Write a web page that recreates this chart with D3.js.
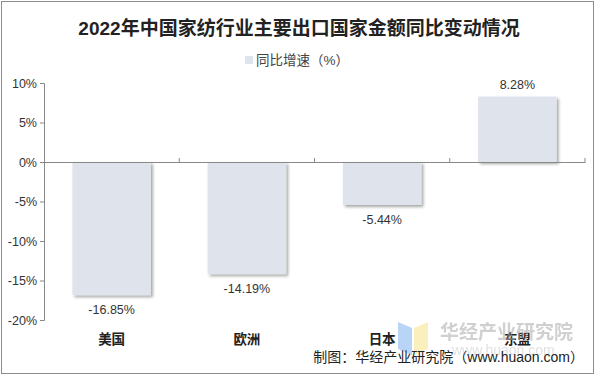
<!DOCTYPE html>
<html>
<head>
<meta charset="utf-8">
<script src="https://cdn.jsdelivr.net/npm/d3@7"></script>
<style>
body { margin: 0; background: #fff; }
text { font-family: Arial, "Liberation Sans", "Noto Sans CJK SC", sans-serif; }
</style>
</head>
<body>
<div id="chart"></div>
<script>
const categories = ["美国", "欧洲", "日本", "东盟"];
const growth = [-16.85, -14.19, -5.44, 8.28];
const yTicks = [10, 5, 0, -5, -10, -15, -20];

const width = 597, height = 377;
const margin = { left: 44, right: 12, top: 83, bottom: 57 };

const svg = d3.select("#chart").append("svg")
    .attr("width", width)
    .attr("height", height);

const defs = svg.append("defs");
const shadow = defs.append("filter").attr("id", "shadow")
    .attr("x", "-10%").attr("y", "-10%").attr("width", "130%").attr("height", "130%");
shadow.append("feDropShadow")
    .attr("dx", 2).attr("dy", 2).attr("stdDeviation", 1.5)
    .attr("flood-color", "#000").attr("flood-opacity", 0.35);

// frame
svg.append("rect")
    .attr("x", 1.5).attr("y", 1.5)
    .attr("width", 592).attr("height", 372)
    .attr("fill", "none").attr("stroke", "#8c8c8c");

const x = d3.scaleBand()
    .domain(categories)
    .range([margin.left, width - margin.right])
    .paddingInner(0.42)
    .paddingOuter(0.21);

const y = d3.scaleLinear()
    .domain([-20, 10])
    .range([height - margin.bottom, margin.top]);

// title
svg.append("text")
    .attr("x", 299).attr("y", 35)
    .attr("text-anchor", "middle")
    .attr("font-family", "'Noto Sans CJK SC', sans-serif")
    .attr("font-weight", "bold")
    .attr("font-size", 19)
    .attr("fill", "#222")
    .text("2022年中国家纺行业主要出口国家金额同比变动情况");

// legend
svg.append("rect")
    .attr("x", 245).attr("y", 56)
    .attr("width", 8).attr("height", 8)
    .attr("fill", "#dfe3ec");
svg.append("text")
    .attr("x", 256).attr("y", 65)
    .attr("font-family", "'Noto Sans CJK SC', sans-serif")
    .attr("font-size", 13.5)
    .attr("fill", "#444")
    .text("同比增速（%）");

// bars
svg.append("g").selectAll("rect")
    .data(growth)
    .join("rect")
    .attr("x", (d, i) => x(categories[i]))
    .attr("y", d => y(Math.max(0, d)))
    .attr("width", x.bandwidth())
    .attr("height", d => Math.abs(y(d) - y(0)))
    .attr("fill", "#dfe3ec")
    .attr("filter", "url(#shadow)");

// value labels
svg.append("g").selectAll("text")
    .data(growth)
    .join("text")
    .attr("x", (d, i) => x(categories[i]) + x.bandwidth() / 2)
    .attr("y", d => d < 0 ? y(d) + 19 : y(d) - 8)
    .attr("text-anchor", "middle")
    .attr("font-size", 12.5)
    .attr("fill", "#333")
    .text(d => d.toFixed(2) + "%");

// y axis
const yAxis = d3.axisLeft(y)
    .tickValues(yTicks)
    .tickSize(4)
    .tickFormat(d => d + "%");

const yg = svg.append("g")
    .attr("transform", `translate(${margin.left},0)`)
    .call(yAxis);
yg.select(".domain").attr("stroke", "#888");
yg.selectAll(".tick line").attr("stroke", "#888");
yg.selectAll(".tick text")
    .attr("font-size", 12.5)
    .attr("fill", "#333")
    .attr("font-family", "Arial, 'Liberation Sans', sans-serif")
    .attr("x", -7);

// x axis at zero
const xAxis = d3.axisBottom(x).tickSize(0).tickFormat("");
const xg = svg.append("g")
    .attr("transform", `translate(0,${y(0)})`)
    .call(xAxis);
xg.select(".domain").attr("stroke", "#888");

const bounds = categories.map(c => x(c) - x.step() * x.paddingInner() / 2);
bounds.push(width - margin.right);
xg.selectAll(".sep")
    .data(bounds.slice(1))
    .join("line")
    .attr("x1", d => d).attr("x2", d => d)
    .attr("y1", 0).attr("y2", -4)
    .attr("stroke", "#888");

// category labels at bottom
svg.append("g").selectAll("text")
    .data(categories)
    .join("text")
    .attr("x", d => x(d) + x.bandwidth() / 2)
    .attr("y", 344)
    .attr("text-anchor", "middle")
    .attr("font-family", "'Noto Sans CJK SC', sans-serif")
    .attr("font-weight", "bold")
    .attr("font-size", 13.5)
    .attr("fill", "#222")
    .text(d => d);

// watermark
const wm = svg.append("g").attr("opacity", 0.55);
wm.append("path")
    .attr("d", "M398,322 L412,328 L412,355 L398,349 Z")
    .attr("fill", "#7fb2f0");
wm.append("path")
    .attr("d", "M414,328 L428,322 L428,349 L414,355 Z")
    .attr("fill", "#f7e58a");
wm.append("text")
    .attr("x", 440).attr("y", 339)
    .attr("font-family", "'Noto Sans CJK SC', sans-serif")
    .attr("font-weight", "bold")
    .attr("font-size", 19)
    .attr("fill", "#aaa")
    .text("华经产业研究院");
wm.append("text")
    .attr("x", 452).attr("y", 355)
    .attr("font-size", 14)
    .attr("fill", "#c8c8c8")
    .text("www.huaon.com");

// source
svg.append("text")
    .attr("x", 584).attr("y", 362)
    .attr("text-anchor", "end")
    .attr("font-family", "'Noto Sans CJK SC', sans-serif")
    .attr("font-size", 14)
    .attr("fill", "#222")
    .text("制图：华经产业研究院（www.huaon.com）");
</script>
</body>
</html>
